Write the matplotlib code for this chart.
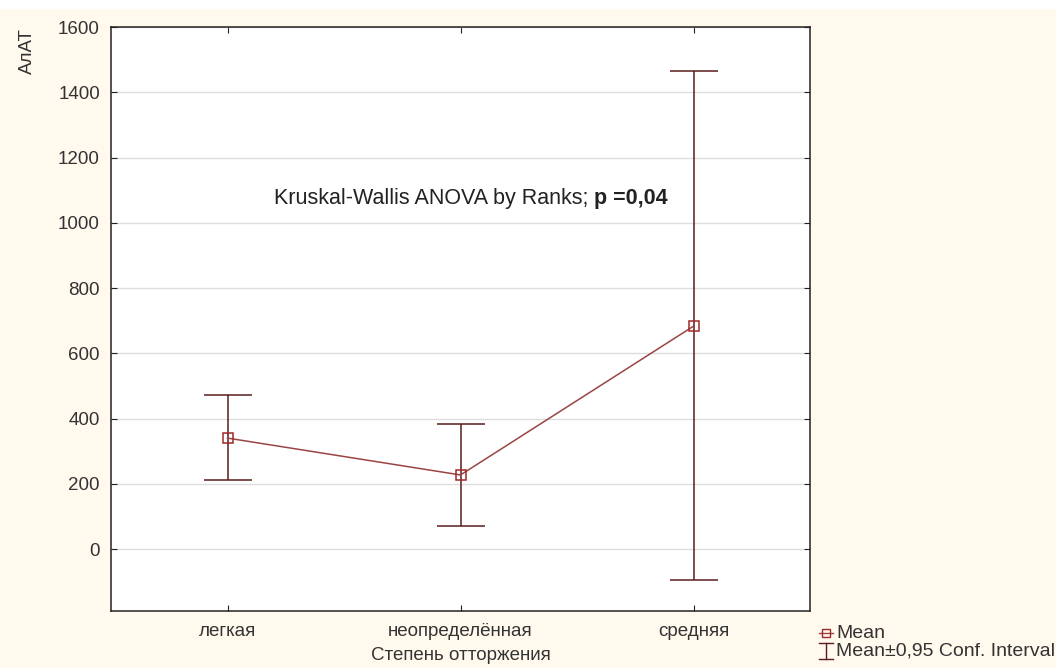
import numpy as np
import matplotlib.pyplot as plt
from matplotlib.lines import Line2D
from matplotlib.patches import Rectangle

plt.rcParams['font.family'] = ['Liberation Sans', 'DejaVu Sans']

# group labels and ALT summary per rejection grade
groups = ['легкая', 'неопределённая', 'средняя']
means = [340, 227, 683]
ci_low = [211, 70, -95]
ci_high = [472, 383, 1465]

x = np.arange(len(groups))
means_arr = np.array(means)
err = [means_arr - np.array(ci_low), np.array(ci_high) - means_arr]

bg = '#fff9ee'
line_col = '#9a4444'
bar_col = '#5a1c1c'

fig = plt.figure(figsize=(10.56, 6.68), dpi=100, facecolor=bg)
fig.patches.append(Rectangle((0, 1 - 9 / 668), 1, 9 / 668, transform=fig.transFigure,
                             facecolor='white', edgecolor='none', zorder=0))
ax = fig.add_axes([111 / 1056, 1 - 611 / 668, 699 / 1056, 584 / 668])
ax.set_facecolor('white')

ax.errorbar(x, means, yerr=err, fmt='none', ecolor=bar_col, elinewidth=1.1,
            capsize=17, capthick=1.1, zorder=3)
ax.plot(x, means, color=line_col, lw=1.1, zorder=4)
ax.plot(x, means, ls='none', marker='s', ms=7.5, mfc='none', mec='#a02828', mew=1.1, zorder=5)

ax.set_xlim(-0.5, 2.5)
ax.set_ylim(-190, 1600)
ax.set_yticks(np.arange(0, 1601, 200))
ax.set_xticks(x)
ax.set_xticklabels(groups)
ax.yaxis.grid(True, color='#dddddd', lw=1)
ax.set_axisbelow(True)
ax.tick_params(direction='in', length=4, top=True, right=True, labelsize=13.5,
               colors='#222222', labelcolor='#333333')
ax.tick_params(axis='x', pad=9)
ax.tick_params(axis='y', pad=8)
for s in ax.spines.values():
    s.set_color('#222222')
    s.set_linewidth(1.1)

ax.set_xlabel('Степень отторжения', fontsize=13.5, color='#333333', labelpad=5)
fig.text(27 / 1056, 1 - 51 / 668, 'АлАТ', rotation=90, ha='center', va='center',
         fontsize=13.5, color='#333333')

t1 = ax.text(0.2, 1073, 'Kruskal-Wallis ANOVA by Ranks; ', fontsize=15.5,
             color='#222222', va='center', ha='left')
ax.annotate('p =0,04', xy=(1, 0), xycoords=t1, va='bottom', ha='left',
            fontsize=15.5, fontweight='bold', color='#222222')

# legend below the right edge of the plot
fy1 = 1 - 633 / 668
fy2 = 1 - 651 / 668
fx = 826 / 1056
fig.add_artist(Line2D([fx - 7 / 1056, fx + 7 / 1056], [fy1, fy1], color=line_col, lw=1))
fig.add_artist(Line2D([fx], [fy1], marker='s', ms=6, mfc='none', mec='#a02828', mew=1))
fig.add_artist(Line2D([fx, fx], [fy2 - 8 / 668, fy2 + 8 / 668], color=bar_col, lw=1))
fig.add_artist(Line2D([fx - 7 / 1056, fx + 7 / 1056], [fy2 + 8 / 668] * 2, color=bar_col, lw=1))
fig.add_artist(Line2D([fx - 7 / 1056, fx + 7 / 1056], [fy2 - 8 / 668] * 2, color=bar_col, lw=1))
fig.text(836 / 1056, fy1, 'Mean', fontsize=14, color='#333333', va='center')
fig.text(836 / 1056, fy2, 'Mean±0,95 Conf. Interval', fontsize=14, color='#333333', va='center')

fig.savefig('out.png', dpi=100, facecolor=bg)
